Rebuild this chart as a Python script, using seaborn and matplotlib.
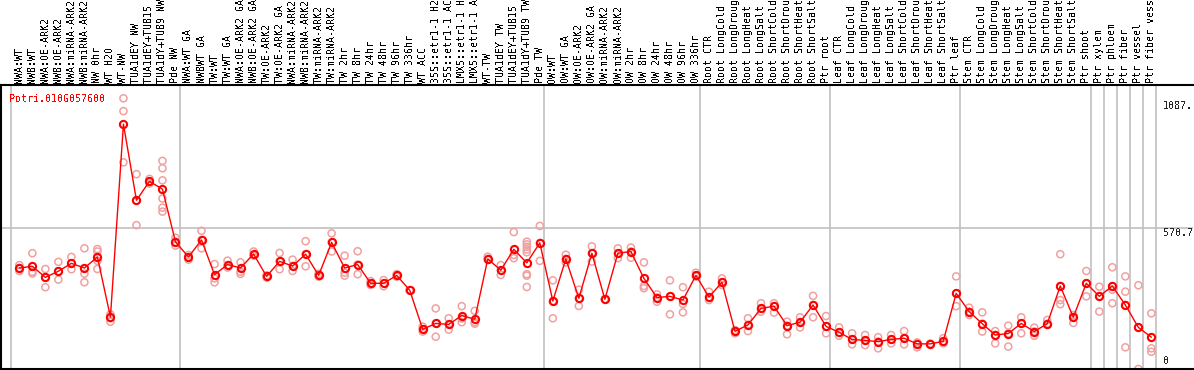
import matplotlib
matplotlib.use("Agg")
import matplotlib.pyplot as plt
import seaborn as sns
import numpy as np
import pandas as pd

gene = "Potri.010G057600"

groups = [
    ["NWA:WT", "NWB:WT", "NWA:OE-ARK2", "NWB:OE-ARK2", "NWA:miRNA-ARK2", "NWB:miRNA-ARK2",
     "NW 0hr", "WT H2O", "WT-NW", "TUA1dEY NW", "TUA1dEY+TUB15 NW", "TUA1dY+TUB9 NW", "Pde NW"],
    ["NWA:WT GA", "NWBWT GA", "TW:WT", "TW:WT GA", "NWA:OE-ARK2 GA", "NWB:OE-ARK2 GA",
     "TW:OE-ARK2", "TW:OE-ARK2 GA", "NWA:miRNA-ARK2", "NWB:miRNA-ARK2", "TW:miRNA-ARK2",
     "TW:miRNA-ARK2", "TW 2hr", "TW 8hr", "TW 24hr", "TW 48hr", "TW 96hr", "TW 336hr",
     "WT ACC", "35S::etr1-1 H2O", "35S::etr1-1 ACC", "LMX5::etr1-1 H2O", "LMX5::etr1-1 ACC",
     "WT-TW", "TUA1dEY TW", "TUA1dEY+TUB15 TW", "TUA1dY+TUB9 TW", "Pde TW"],
    ["OW:WT", "OW:WT GA", "OW:OE-ARK2", "OW:OE-ARK2 GA", "OW:miRNA-ARK2", "OW:miRNA-ARK2",
     "OW 2hr", "OW 8hr", "OW 24hr", "OW 48hr", "OW 96hr", "OW 336hr"],
    ["Root CTR", "Root LongCold", "Root LongDrought", "Root LongHeat", "Root LongSalt",
     "Root ShortCold", "Root ShortDrought", "Root ShortHeat", "Root ShortSalt", "Ptr root"],
    ["Leaf CTR", "Leaf LongCold", "Leaf LongDrought", "Leaf LongHeat", "Leaf LongSalt",
     "Leaf ShortCold", "Leaf ShortDrought", "Leaf ShortHeat", "Leaf ShortSalt", "Ptr leaf"],
    ["Stem CTR", "Stem LongCold", "Stem LongDrought", "Stem LongHeat", "Stem LongSalt",
     "Stem ShortCold", "Stem ShortDrought", "Stem ShortHeat", "Stem ShortSalt", "Ptr shoot"],
    ["Ptr xylem"], ["Ptr phloem"], ["Ptr fiber"], ["Ptr vessel"], ["Ptr fiber vessel"],
]
labels = [s for g in groups for s in g]

means = [410, 417, 372, 397, 429, 410, 455, 211, 994, 685, 762, 730, 516,
         455, 524, 383, 424, 410, 467, 376, 437, 418, 466, 380, 514, 410, 424, 348,
         348, 380, 320, 161, 185, 181, 217, 202, 447, 401, 486, 431, 512,
         276, 447, 287, 470, 283, 470, 477, 368, 290, 295, 280, 380,
         292, 352, 153, 179, 246, 255, 176, 190, 260, 173,
         149, 120, 116, 111, 120, 125, 102, 102, 112, 307,
         233, 184, 138, 144, 185, 152, 184, 337, 210, 348,
         295, 337, 260, 169, 129]

reps = [
    [422, 410, 398], [470, 395, 388], [406, 372, 332], [435, 397, 363], [455, 429, 405],
    [490, 387, 352], [487, 477, 455, 439, 406], [222, 206, 192], [1099, 1047, 839],
    [791, 685, 584], [772, 762, 753], [845, 815, 766, 692, 655, 639], [533, 516, 501],
    [463, 455, 444], [561, 524, 490], [426, 368, 352], [440, 422, 412], [433, 395, 386],
    [477, 463, 460], [380, 376, 371], [471, 437, 405], [444, 418, 398],
    [519, 466, 417], [387, 380, 375], [551, 514, 477], [460, 391, 379], [478, 424, 385],
    [357, 348, 341], [361, 348, 336], [385, 380, 375], [320, 320, 320], [172, 162, 152],
    [246, 185, 131], [206, 181, 160], [255, 205, 190], [236, 190, 184],
    [456, 447, 443], [422, 401, 382], [556, 463, 450],
    [517, 506, 496, 485, 474, 385, 379, 333], [581, 512, 439],
    [360, 276, 206], [464, 447, 432], [322, 287, 256],
    [498, 470, 436], [283, 283, 283], [490, 470, 450], [493, 477, 452],
    [433, 337, 328], [303, 290, 273], [360, 295, 222], [332, 264, 230],
    [391, 380, 375], [314, 292, 280], [368, 352, 341], [158, 153, 145],
    [206, 179, 154], [267, 246, 233], [267, 255, 229], [192, 176, 141],
    [210, 190, 169], [297, 260, 210], [215, 173, 145],
    [169, 149, 135], [145, 120, 100], [138, 116, 97], [129, 111, 84],
    [138, 120, 104], [154, 125, 100], [108, 102, 88], [102, 102, 102], [125, 112, 104],
    [376, 307, 255], [249, 233, 219], [230, 184, 152], [154, 138, 104], [176, 144, 91],
    [210, 185, 145], [168, 152, 135], [199, 184, 179], [466, 337, 280, 263],
    [219, 210, 187], [398, 348, 295], [334, 295, 233], [413, 337, 322, 267],
    [376, 314, 260, 88], [340, 169, 0], [226, 129, 84, 70],
]

y_ticks = [0, 570.7, 1087]
y_tick_text = ["0", "570.7", "1087."]

idx = np.arange(len(labels))
df_mean = pd.DataFrame({"idx": idx, "value": means})
df_rep = pd.DataFrame([(i, v) for i, r in enumerate(reps) for v in r], columns=["idx", "value"])

sns.set_style("white")
plt.rcParams["font.family"] = ["DejaVu Sans Mono", "DejaVu Sans"]
plt.rcParams["text.antialiased"] = False

W, H = 1194, 370
fig = plt.figure(figsize=(W / 100, H / 100), dpi=100)
ax = fig.add_axes([1 / W, 1 / H, 1192 / W, 284 / H])

grid_c = "#c0c0c0"
ax.axhline(570.7, color=grid_c, lw=1.2, zorder=0)
bounds = np.concatenate([[0], np.cumsum([len(g) for g in groups])])
for b in bounds:
    ax.axvline(b - 0.67, color=grid_c, lw=1.2, zorder=0)

# replicate values, pale
sns.scatterplot(data=df_rep, x="idx", y="value", ax=ax, marker="o", s=26,
                facecolor="none", edgecolor="#f0a0a0", linewidth=1.1, zorder=2, legend=False)
# mean line
sns.lineplot(data=df_mean, x="idx", y="value", ax=ax, color="red", lw=1.0,
             marker="o", ms=5.2, mfc="none", mec="red", mew=1.5, zorder=3)

ax.set_xlim(-1.41, 90.2)
ax.set_ylim(0, 1153)
ax.set_xticks([])
ax.set_yticks([])
ax.set_xlabel("")
ax.set_ylabel("")
for s in ["left", "top", "bottom"]:
    ax.spines[s].set_color("black")
    ax.spines[s].set_linewidth(1.5)
ax.spines["right"].set_visible(False)

fs = 7.2
for i, lab in enumerate(labels):
    ax.text(i, 1 + 2 / 284, lab, transform=ax.get_xaxis_transform(), rotation=90,
            ha="center", va="bottom", fontsize=fs, color="black", clip_on=False)

ax.text(8 / 1192, 1 - 9 / 284, gene, transform=ax.transAxes, ha="left", va="top",
        fontsize=fs, color="red")

tx = ax.get_yaxis_transform()
ax.text(1162 / 1192, y_ticks[2], y_tick_text[2], transform=tx, ha="left", va="top", fontsize=fs)
ax.text(1162 / 1192, y_ticks[1], y_tick_text[1], transform=tx, ha="left", va="top", fontsize=fs)
ax.text(1162 / 1192, 12, y_tick_text[0], transform=tx, ha="left", va="bottom", fontsize=fs)

fig.savefig("out.png", dpi=100)
